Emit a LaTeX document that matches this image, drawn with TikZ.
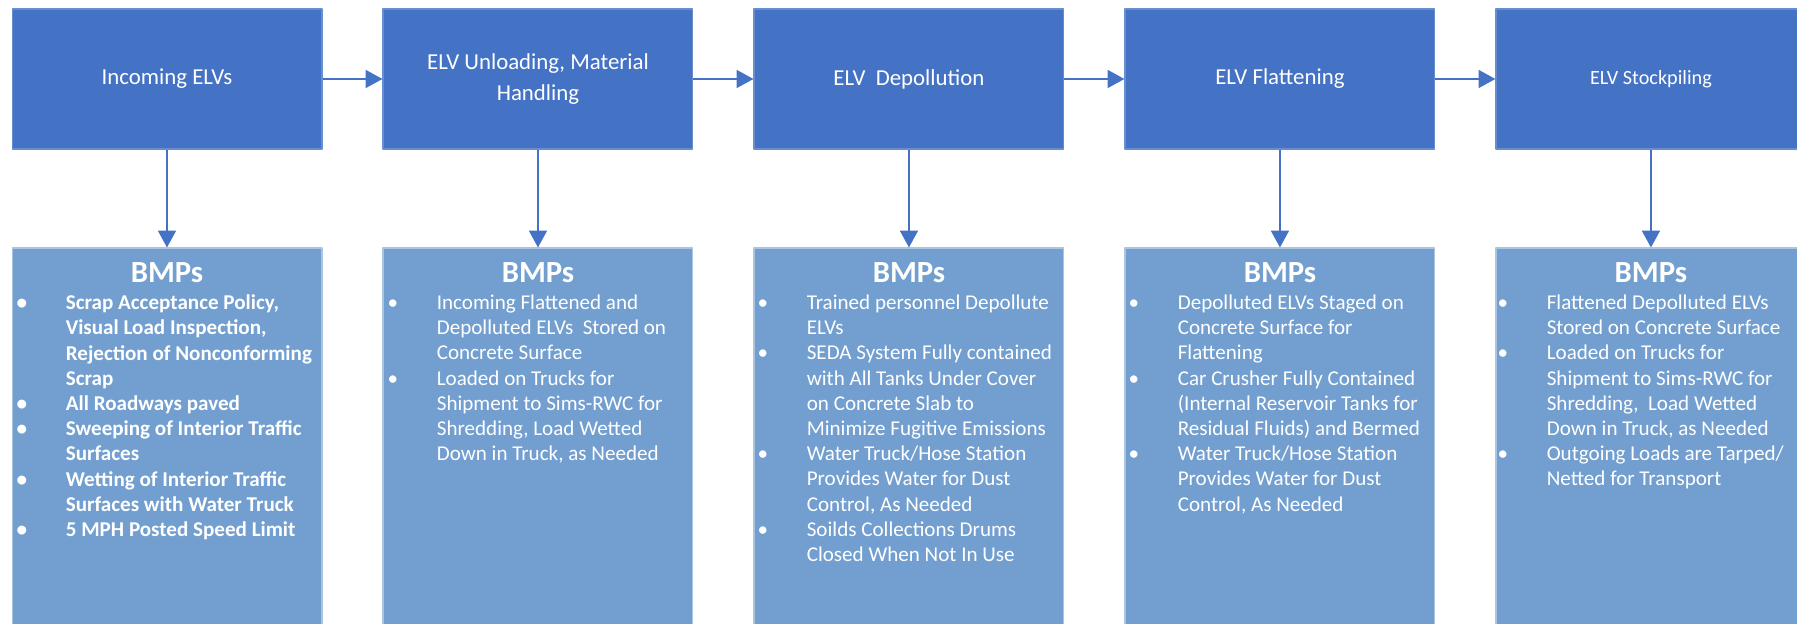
\documentclass[tikz,border=0pt]{standalone}
\usepackage{fontspec}
\setmainfont{Carlito}
\usetikzlibrary{positioning,arrows.meta}
\definecolor{stageblue}{HTML}{4472C4}
\definecolor{bmpblue}{HTML}{729FCF}
\tikzset{
  stage/.style={draw=stageblue!80!white, line width=.6pt, fill=stageblue, text=white,
    minimum width=6.2cm, minimum height=2.8cm, inner sep=0pt, align=center,
    font=\fontsize{13}{18}\selectfont},
  bmpbox/.style={draw=bmpblue!60!white, line width=.6pt, fill=bmpblue,
    minimum width=6.2cm, minimum height=7.86cm, inner sep=0pt},
  bmphead/.style={text=white, inner sep=0pt, font=\fontsize{17.5}{20}\selectfont\bfseries},
  bmplist/.style={text=white, inner sep=0pt, align=left, anchor=north west,
    font=\fontsize{12}{14.35}\selectfont},
  flow/.style={stageblue, line width=1.1pt, -{Triangle[length=9.6pt, width=10.2pt]}}
}
\newcommand\bul{\llap{\textbullet\hspace{22pt}}}
\begin{document}
\begin{tikzpicture}[x=.02cm, y=-.02cm, line join=round]
			%% Khung
			\useasboundingbox (0,0) rectangle (1797,624);
			\clip (0,0) rectangle (1797,624);
			%% Hang tren: cac cong doan
			\node[stage] (s1) at (167,79) {Incoming ELVs};
			\node[stage, right=1.2cm of s1] (s2) {ELV Unloading, Material\\Handling};
			\node[stage, right=1.2cm of s2] (s3) {ELV\ \ Depollution};
			\node[stage, right=1.2cm of s3] (s4) {ELV Flattening};
			\node[stage, right=1.2cm of s4, font=\fontsize{11.5}{16}\selectfont] (s5) {ELV Stockpiling};
			%% Hang duoi: BMPs
			\foreach \i in {1,...,5} {
				\node[bmpbox, below=1.96cm of s\i] (b\i) {};
				\node[bmphead] (h\i) at ([yshift=-.5cm]b\i.north) {BMPs};
			}
			\node[bmplist, font=\fontsize{12}{14.35}\selectfont\bfseries] (l1) at ([xshift=1.08cm, yshift=-.94cm]b1.north west)
				{\bul Scrap Acceptance Policy,\\Visual Load Inspection,\\Rejection of Nonconforming\\Scrap\\
				\bul All Roadways paved\\\bul Sweeping of Interior Traffic\\Surfaces\\
				\bul Wetting of Interior Traffic\\Surfaces with Water Truck\\\bul 5 MPH Posted Speed Limit};
			\node[bmplist] (l2) at ([xshift=1.08cm, yshift=-.94cm]b2.north west)
				{\bul Incoming Flattened and\\Depolluted ELVs\ \ Stored on\\Concrete Surface\\
				\bul Loaded on Trucks for\\Shipment to Sims-RWC for\\Shredding, Load Wetted\\Down in Truck, as Needed};
			\node[bmplist] (l3) at ([xshift=1.06cm, yshift=-.94cm]b3.north west)
				{\bul Trained personnel Depollute\\ELVs\\
				\bul SEDA System Fully contained\\with All Tanks Under Cover\\on Concrete Slab to\\Minimize Fugitive Emissions\\
				\bul Water Truck/Hose Station\\Provides Water for Dust\\Control, As Needed\\
				\bul Soilds Collections Drums\\Closed When Not In Use};
			\node[bmplist] (l4) at ([xshift=1.06cm, yshift=-.94cm]b4.north west)
				{\bul Depolluted ELVs Staged on\\Concrete Surface for\\Flattening\\
				\bul Car Crusher Fully Contained\\(Internal Reservoir Tanks for\\Residual Fluids) and Bermed\\
				\bul Water Truck/Hose Station\\Provides Water for Dust\\Control, As Needed};
			\node[bmplist] (l5) at ([xshift=1.02cm, yshift=-.94cm]b5.north west)
				{\bul Flattened Depolluted ELVs\\Stored on Concrete Surface\\
				\bul Loaded on Trucks for\\Shipment to Sims-RWC for\\Shredding,\ \ Load Wetted\\Down in Truck, as Needed\\
				\bul Outgoing Loads are Tarped/\\Netted for Transport};
			%% Mui ten
			\foreach \a/\b in {s1/s2, s2/s3, s3/s4, s4/s5}
				\draw[flow] (\a) -- (\b);
			\foreach \i in {1,...,5}
				\draw[flow] (s\i) -- (b\i);
\end{tikzpicture}
\end{document}
